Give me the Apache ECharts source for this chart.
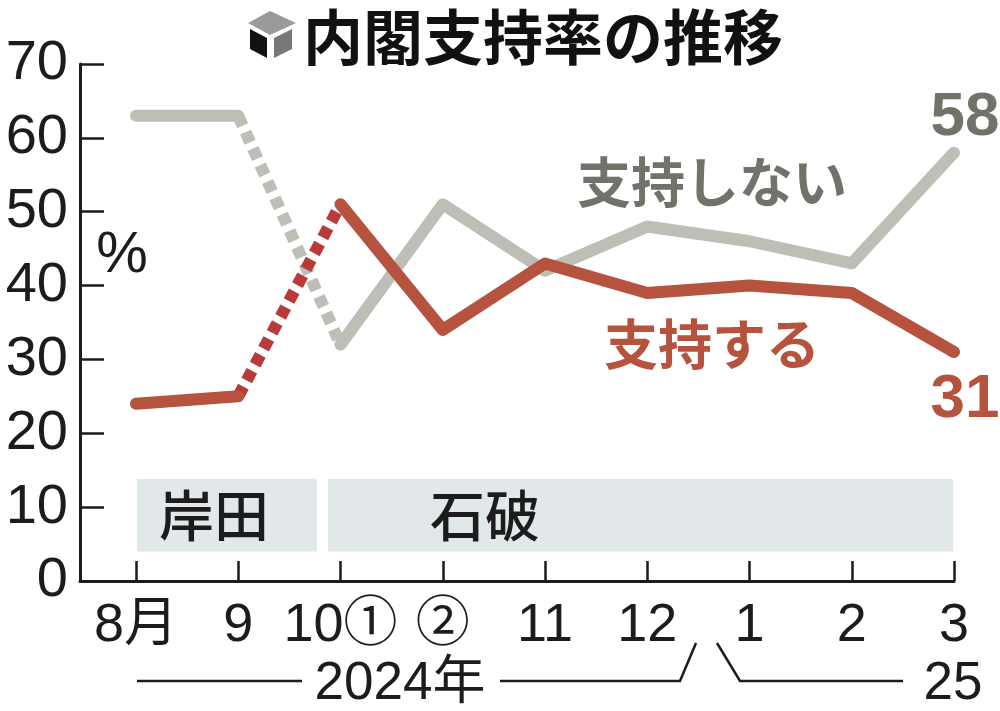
<!DOCTYPE html>
<html><head><meta charset="utf-8">
<style>html,body{margin:0;padding:0;background:#fff}#c{width:1000px;height:711px}</style>
<script src="https://cdn.jsdelivr.net/npm/echarts@6/dist/echarts.min.js"></script>
</head><body><div id="c"></div>
<script>
const categories = ['8月','9','10①','②','11','12','1','2','3'];
const positions = [0,1,2,3,4,5,6,7,8];
const support = [24,25,51,34,43,39,40,39,31];
const oppose = [63,63,32,51,42,48,46,43,58];
const yTicks = [0,10,20,30,40,50,60,70];

const FONT = '"Liberation Sans","Noto Sans CJK JP",sans-serif';
const CJK = '"Noto Sans CJK JP",sans-serif';
const RED = '#b5533f', RED_DOT = '#b83a3a', GRAY = '#bdbeb6', GRAY_TEXT = '#70736a', INK = '#1c1c1c';
const pts = (arr, a, b) => positions.slice(a, b + 1).map(i => [i, arr[i]]);

function lineSeries(name, data, color, dash, extra) {
  return Object.assign({
    name, type: 'line', data, symbol: 'none', silent: true, z: dash ? 3 : 4,
    lineStyle: { color, width: 12, type: dash ? [11, 7] : 'solid', cap: dash ? 'butt' : 'round', join: 'round' }
  }, extra || {});
}
const endLabel = (color, off) => ({
  endLabel: { show: true, formatter: p => String(p.value[1]), color, fontFamily: FONT, fontWeight: 'bold',
    fontSize: 62, offset: off, align: 'center', verticalAlign: 'middle' }
});
const T = (x, y, text, fontSize, fill, fontWeight, align, fam) => ({
  type: 'text', x, y, silent: true,
  style: { text, fontSize, fill, fontWeight: fontWeight || 'normal', align: align || 'left', verticalAlign: 'middle', fontFamily: fam || FONT }
});
const L = (points, lw) => ({ type: 'polyline', silent: true, shape: { points }, style: { stroke: INK, lineWidth: lw || 2.5, fill: null } });

const option = {
  animation: false,
  grid: { left: 80, right: 46, top: 64, height: 517, containLabel: false },
  xAxis: {
    type: 'value', min: -0.5477, max: 8, splitLine: { show: false },
    axisLine: { show: true, onZero: false, lineStyle: { color: INK, width: 3 } },
    axisTick: { show: true, inside: true, length: 20, customValues: positions, lineStyle: { color: INK, width: 2.5 } },
    axisLabel: { show: true, customValues: positions, margin: 16, color: INK, fontFamily: FONT, fontSize: 54, lineHeight: 58,
      hideOverlap: false, showMinLabel: true, showMaxLabel: true,
      formatter: v => categories[Math.round(v)] }
  },
  yAxis: {
    type: 'value', min: 0, max: 70, interval: 10, splitLine: { show: false },
    axisLine: { show: true, onZero: false, lineStyle: { color: INK, width: 3 } },
    axisTick: { show: true, inside: true, length: 24, lineStyle: { color: INK, width: 2.5 } },
    axisLabel: { margin: 12, color: INK, fontFamily: FONT, fontSize: 56, formatter: v => yTicks[v / 10] }
  },
  series: [
    lineSeries('支持しない', pts(oppose, 0, 1), GRAY, false, {
      markArea: { silent: true, itemStyle: { color: '#e2e7ea' },
        label: { show: true, position: 'insideLeft', color: INK, fontFamily: CJK, fontWeight: 500, fontSize: 55 },
        data: [
          [{ name: '岸田', xAxis: 0.01, yAxis: 4, label: { distance: 22 } }, { xAxis: 1.77, yAxis: 13.8 }],
          [{ name: '石破', xAxis: 1.878, yAxis: 4, label: { distance: 102 } }, { xAxis: 7.99, yAxis: 13.8 }]
        ] }
    }),
    lineSeries('支持しない', pts(oppose, 1, 2), GRAY, true),
    lineSeries('支持しない', pts(oppose, 2, 8), GRAY, false, endLabel(GRAY_TEXT, [3, -35])),
    lineSeries('支持する', pts(support, 0, 1), RED, false),
    lineSeries('支持する', pts(support, 1, 2), RED_DOT, true),
    lineSeries('支持する', pts(support, 2, 8), RED, false, endLabel(RED, [3, 48]))
  ],
  graphic: [
    { type: 'polygon', silent: true, shape: { points: [[270,11],[296,23],[270,35],[248,23]] }, style: { fill: '#9a9a9a' } },
    { type: 'polygon', silent: true, shape: { points: [[250,29],[267,38],[267,58],[250,49]] }, style: { fill: '#111' } },
    { type: 'polygon', silent: true, shape: { points: [[274,38],[292,29],[292,49],[274,58]] }, style: { fill: '#777' } },
    T(303, 37, '内閣支持率の推移', 60, '#111', 'bold', 'left', CJK),
    T(122, 256, '%', 58, INK, 'normal', 'center'),
    T(712, 182, '支持しない', 54, GRAY_TEXT, 'bold', 'center', CJK),
    T(712, 344, '支持する', 54, RED, 'bold', 'center', CJK),
    T(400, 684, '2024年', 53, INK, 'normal', 'center'),
    T(953, 684, '25', 53, INK, 'normal', 'center'),
    L([[137,681],[302,681]]),
    L([[500,681],[680,681],[696,643]]),
    L([[717,643],[740,681],[903,681]])
  ]
};
echarts.init(document.getElementById('c')).setOption(option);
</script></body></html>
